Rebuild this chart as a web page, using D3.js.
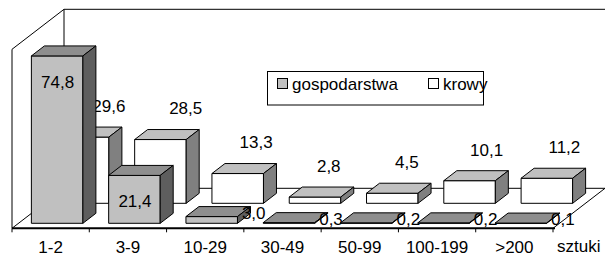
<!DOCTYPE html>
<html>
<head>
<meta charset="utf-8">
<script src="https://cdn.jsdelivr.net/npm/d3@7"></script>
<style>
  body { margin: 0; background: #fff; }
  svg { display: block; font-family: "Liberation Sans", Arial, sans-serif; }
</style>
</head>
<body>
<div id="chart"></div>
<script>
// data
const categories = ['1-2', '3-9', '10-29', '30-49', '50-99', '100-199', '>200'];
const gospodarstwa = [74.8, 21.4, 3.0, 0.3, 0.2, 0.2, 0.1];
const krowy = [29.6, 28.5, 13.3, 2.8, 4.5, 10.1, 11.2];
const seriesNames = ['gospodarstwa', 'krowy'];
const valueDomain = [0, 80];
const unitLabel = 'sztuki';

const width = 605, height = 256;
// depth vector of the whole floor (oblique projection)
const depthX = 52, depthY = -40;

const svg = d3.select('#chart').append('svg')
    .attr('width', width)
    .attr('height', height);

const x = d3.scaleBand()
    .domain(categories)
    .range([12, 553])
    .paddingInner(1 / 3)
    .paddingOuter(1 / 6);
const step = x.step();

const y = d3.scaleLinear()
    .domain(valueDomain)
    .range([228.3, 49.3]);

// depth position of each series (0 = front, 1 = back wall)
const z = d3.scaleBand()
    .domain(seriesNames)
    .range([0, 1])
    .paddingInner(0.5)
    .paddingOuter(0.25);

const fmt = v => d3.format('.1f')(v).replace('.', ',');
const proj = (px, py, d) => [px + d * depthX, py + d * depthY];
const pts = arr => arr.map(p => p.join(',')).join(' ');

const styles = {
    gospodarstwa: { front: '#c0c0c0', top: '#8e8e8e', side: '#5e5e5e' },
    krowy: { front: '#ffffff', top: '#c0c0c0', side: '#808080' }
};

// walls and floor
const walls = svg.append('g').attr('fill', 'none').attr('stroke', '#000').attr('stroke-width', 1);
const x0 = x.range()[0], x1 = x.range()[1];
const yBase = y(0), yTop = y(valueDomain[1]);
const wallLines = [
    [[x0, yBase], [x0, yTop]],
    [[x0, yTop], proj(x0, yTop, 1)],
    [proj(x0, yTop, 1), proj(x1 + 60, yTop, 1)],
    [proj(x0, yTop, 1), proj(x0, yBase, 1)],
    [[x0, yBase], proj(x0, yBase, 1)],
    [proj(x0, yBase, 1), proj(x1 + 60, yBase, 1)],
    [[x1, yBase], proj(x1, yBase, 1)]
];
walls.selectAll('line').data(wallLines).join('line')
    .attr('x1', d => d[0][0]).attr('y1', d => d[0][1])
    .attr('x2', d => d[1][0]).attr('y2', d => d[1][1]);

// one 3D box
function drawBox(g, cat, v, name) {
    const s = styles[name];
    const bx0 = x(cat), bx1 = x(cat) + x.bandwidth();
    const d0 = z(name), d1 = z(name) + z.bandwidth();
    const yt = y(v), yb = y(0);
    const front = [proj(bx0, yt, d0), proj(bx1, yt, d0), proj(bx1, yb, d0), proj(bx0, yb, d0)];
    const top = [proj(bx0, yt, d0), proj(bx1, yt, d0), proj(bx1, yt, d1), proj(bx0, yt, d1)];
    const side = [proj(bx1, yt, d0), proj(bx1, yb, d0), proj(bx1, yb, d1), proj(bx1, yt, d1)];
    const box = g.append('g').attr('stroke', '#000').attr('stroke-width', 1).attr('stroke-linejoin', 'round');
    box.append('polygon').attr('points', pts(front)).attr('fill', s.front);
    box.append('polygon').attr('points', pts(top)).attr('fill', s.top);
    box.append('polygon').attr('points', pts(side)).attr('fill', s.side);
}

function drawLabel(g, cat, v, name) {
    const d0 = z(name);
    const [cx, ty] = proj(x(cat) + x.bandwidth() / 2, y(v), d0);
    let lx, ly;
    if (name === 'krowy') {
        // above the box, pushed right a bit more for taller boxes
        lx = cx + 12.5 + 0.2 * (y(0) - y(v));
        ly = ty - 31;
    } else if (v >= 10) {
        lx = cx + 0.5;
        ly = ty + 26;
    } else {
        lx = cx + 42;
        ly = ty - 4;
    }
    g.append('text')
        .attr('x', lx).attr('y', ly).attr('dy', '0.35em')
        .attr('text-anchor', 'middle')
        .attr('font-size', 17)
        .attr('fill', '#000')
        .text(fmt(v));
}

const bars = svg.append('g');
// back row first, then front row, left to right
const rows = [['krowy', krowy], ['gospodarstwa', gospodarstwa]];
rows.forEach(([name, values]) => {
    categories.forEach((cat, i) => {
        drawBox(bars, cat, values[i], name);
        drawLabel(bars, cat, values[i], name);
    });
});

// category axis
const axis = svg.append('g');
axis.append('line')
    .attr('x1', x0).attr('x2', x1 + 2)
    .attr('y1', yBase).attr('y2', yBase)
    .attr('stroke', '#000').attr('stroke-width', 2);
const ticks = categories.map(c => x(c) - step / 6).concat([x1]);
axis.selectAll('.tick').data(ticks).join('line')
    .attr('class', 'tick')
    .attr('x1', d => d).attr('x2', d => d)
    .attr('y1', yBase).attr('y2', yBase + 4)
    .attr('stroke', '#000').attr('stroke-width', 1);
axis.selectAll('.cat').data(categories).join('text')
    .attr('class', 'cat')
    .attr('x', d => x(d) + x.bandwidth() / 2)
    .attr('y', 252.5)
    .attr('text-anchor', 'middle')
    .attr('font-size', 17)
    .text(d => d);
axis.append('text')
    .attr('x', 557).attr('y', 252)
    .attr('font-size', 17)
    .text(unitLabel);

// legend
const legend = svg.append('g');
legend.append('rect')
    .attr('x', 267.5).attr('y', 71.5)
    .attr('width', 216).attr('height', 33.5)
    .attr('fill', '#fff').attr('stroke', '#000');
const legendX = [277, 428];
seriesNames.forEach((name, i) => {
    legend.append('rect')
        .attr('x', legendX[i] + 0.5).attr('y', 78.5)
        .attr('width', 10).attr('height', 10)
        .attr('fill', styles[name].front).attr('stroke', '#000');
    legend.append('text')
        .attr('x', legendX[i] + 15).attr('y', 84).attr('dy', '0.35em')
        .attr('font-size', 17)
        .text(name);
});
</script>
</body>
</html>
